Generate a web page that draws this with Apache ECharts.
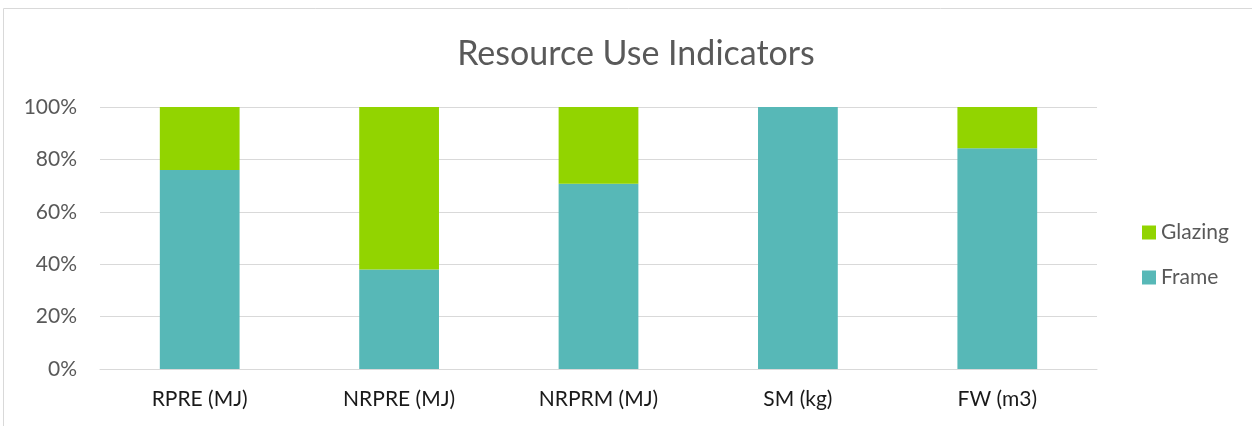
<!DOCTYPE html>
<html>
<head>
<meta charset="utf-8">
<script src="https://cdn.jsdelivr.net/npm/echarts@6/dist/echarts.min.js"></script>
<style>
    html, body { margin: 0; padding: 0; background: #fff; }
    #main { width: 1252px; height: 426px; }
</style>
</head>
<body>
<div id="main"></div>
<script>
// 数据
var categories = ['RPRE (MJ)', 'NRPRE (MJ)', 'NRPRM (MJ)', 'SM (kg)', 'FW (m3)'];
var frameValues = [76, 38, 70.7, 100, 84.3];
var glazingValues = [24, 62, 29.3, 0, 15.7];
var yTicks = [0, 20, 40, 60, 80, 100];

var font = 'Lato, "Open Sans", sans-serif';

var option = {
    animation: false,
    textStyle: { fontFamily: font },
    title: {
        text: 'Resource Use Indicators',
        left: 631,
        textAlign: 'center',
        top: 32,
        textStyle: { color: '#595959', fontSize: 34, fontWeight: 'normal', fontFamily: font }
    },
    graphic: [{
        type: 'rect',
        shape: { x: 3.5, y: 8.5, width: 1300, height: 500 },
        style: { fill: 'none', stroke: '#d9d9d9', lineWidth: 1 },
        silent: true
    }],
    legend: {
        orient: 'vertical',
        left: 1137,
        top: 217,
        itemGap: 24,
        itemWidth: 14,
        itemHeight: 14,
        itemStyle: { borderWidth: 0 },
        icon: 'rect',
        data: ['Glazing', 'Frame'],
        textStyle: { color: '#595959', fontSize: 21, fontFamily: font }
    },
    grid: {
        left: 100,
        right: 155,
        top: 107,
        bottom: 57,
        containLabel: false
    },
    xAxis: {
        type: 'category',
        data: categories,
        axisLine: { lineStyle: { color: '#d9d9d9', width: 1 } },
        axisTick: { show: false },
        axisLabel: { color: '#1a1a1a', fontSize: 21, margin: 20, fontFamily: font }
    },
    yAxis: {
        type: 'value',
        min: yTicks[0],
        max: yTicks[yTicks.length - 1],
        interval: 20,
        axisLine: { show: false },
        axisTick: { show: false },
        splitLine: { lineStyle: { color: '#d9d9d9', width: 1 } },
        axisLabel: { color: '#595959', fontSize: 21, margin: 23, formatter: '{value}%', fontFamily: font }
    },
    series: [{
        name: 'Frame',
        type: 'bar',
        stack: 'total',
        barWidth: '40%',
        data: frameValues,
        itemStyle: { color: '#57b8b7' }
    }, {
        name: 'Glazing',
        type: 'bar',
        stack: 'total',
        barWidth: '40%',
        data: glazingValues,
        itemStyle: { color: '#92d400' }
    }]
};

var myChart = echarts.init(document.getElementById('main'));
myChart.setOption(option);
</script>
</body>
</html>
